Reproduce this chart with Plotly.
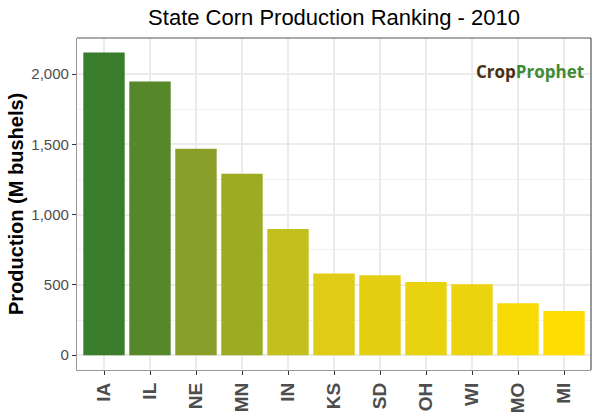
import plotly.graph_objects as go

states = ["IA", "IL", "NE", "MN", "IN", "KS", "SD", "OH", "WI", "MO", "MI"]
production = [2153, 1947, 1469, 1290, 898, 581, 569, 521, 504, 369, 315]
bar_colors = ["#3A7D2D", "#56882B", "#8A9F2A", "#9CAB22", "#C3BF1C", "#E0CC14",
              "#E3CE12", "#E9D30F", "#EBD40D", "#F8DA05", "#FFDD00"]
y_ticks = [0, 500, 1000, 1500, 2000]
y_labels = ["0", "500", "1,000", "1,500", "2,000"]
FONT = "Liberation Sans"

fig = go.Figure(go.Bar(x=states, y=production, width=0.9,
                       marker=dict(color=bar_colors, line_width=0)))

fig.update_layout(
    width=600, height=420, autosize=False,
    margin=dict(l=77, r=9, t=38, b=50),
    paper_bgcolor="white", plot_bgcolor="white",
    font=dict(family=FONT, color="#4D4D4D"),
    showlegend=False,
    title=dict(text="State Corn Production Ranking - 2010",
               x=334 / 600, xanchor="center", y=1 - 17 / 420, yanchor="middle",
               font=dict(size=22, color="black", family=FONT)),
    annotations=[
        dict(xref="paper", yref="paper", x=0.99, y=0.898, xanchor="right", yanchor="middle",
             showarrow=False,
             text="<b><span style='color:#4A2E12'>Crop</span><span style='color:#3F8A35'>Prophet</span></b>",
             font=dict(size=17, family="Open Sans")),
        dict(xref="paper", yref="paper", x=-61 / 514, y=0.5, xanchor="center", yanchor="middle",
             showarrow=False, textangle=-90,
             text="<b>Production (M bushels)</b>",
             font=dict(size=20, color="black", family=FONT)),
    ],
)
fig.update_xaxes(
    type="category", range=[-0.587, 10.587], automargin=False,
    showgrid=True, gridcolor="#EBEBEB", gridwidth=1.6,
    showline=True, linecolor="#999999", linewidth=1.3, mirror=False,
    ticks="outside", ticklen=4, tickwidth=1.2, tickcolor="#333333",
    tickangle=-90, tickfont=dict(size=19, color="#4D4D4D", family=FONT, weight="bold"),
    zeroline=False,
)
fig.update_yaxes(
    range=[-105, 2256], tickmode="array", tickvals=y_ticks, ticktext=y_labels, automargin=False,
    showgrid=True, gridcolor="#EBEBEB", gridwidth=1.6,
    minor=dict(tickmode="array", tickvals=[250, 750, 1250, 1750, 2250],
               showgrid=True, gridcolor="#F0F0F0", gridwidth=1, ticks=""),
    showline=True, linecolor="#999999", linewidth=1.3,
    ticks="outside", ticklen=4, tickwidth=1.2, tickcolor="#333333",
    tickfont=dict(size=15, color="#4D4D4D"),
    zeroline=False,
)
fig.add_shape(type="line", xref="paper", yref="paper", x0=0, x1=1, y0=1, y1=1,
              line=dict(color="#555555", width=1.2), layer="above")
fig.add_shape(type="line", xref="paper", yref="paper", x0=1, x1=1, y0=0, y1=1,
              line=dict(color="#555555", width=1.2), layer="above")
fig.write_html("out.html", post_script="document.body.style.margin='0';",
               config={"displayModeBar": False})
